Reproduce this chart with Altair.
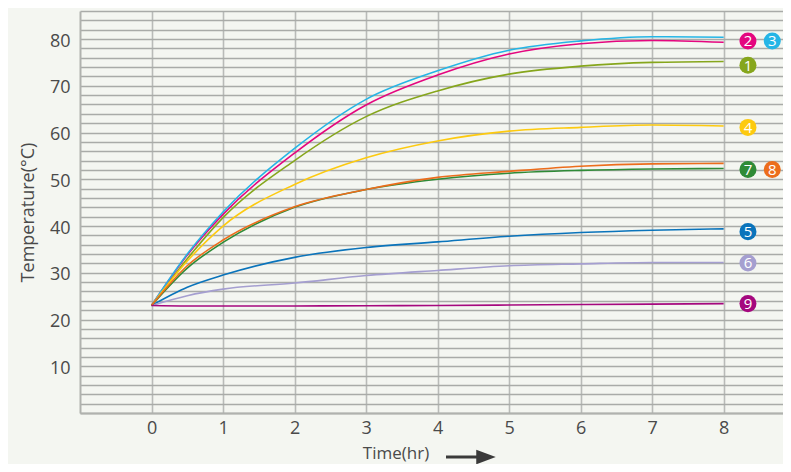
import altair as alt
import pandas as pd

# ---- data ----
hours = [0, 0.5, 1, 2, 3, 4, 5, 6, 7, 8]
series_ids = ["1", "2", "3", "4", "5", "6", "7", "8", "9"]
s1 = [23, 33.0, 41.8, 54.0, 63.4, 68.9, 72.5, 74.2, 75.0, 75.2]
s2 = [23, 33.8, 42.5, 55.6, 65.9, 72.3, 76.8, 79.0, 79.7, 79.3]
s3 = [23, 34.0, 43.0, 56.6, 67.1, 73.2, 77.6, 79.6, 80.5, 80.4]
s4 = [23, 32.5, 40.0, 48.9, 54.6, 58.2, 60.3, 61.1, 61.6, 61.4]
s5 = [23, 26.9, 29.5, 33.3, 35.4, 36.6, 37.8, 38.6, 39.1, 39.4]
s6 = [23, 25.1, 26.5, 27.8, 29.4, 30.5, 31.5, 31.9, 32.2, 32.2]
s7 = [23, 31.0, 36.5, 44.0, 47.8, 50.0, 51.3, 51.9, 52.2, 52.3]
s8 = [23, 31.5, 37.0, 44.1, 47.8, 50.4, 51.7, 52.8, 53.3, 53.4]
s9 = [23, 22.9, 22.9, 22.9, 22.95, 23.0, 23.1, 23.2, 23.3, 23.4]
colors = ["#86a61c", "#e4067f", "#25b5e6", "#fdca0f", "#0a74bb",
          "#a59fd0", "#2f8b37", "#ec6d1c", "#a5087e"]

# badge labels (number, row value, column)
badge_ids = ["1", "2", "3", "4", "5", "6", "7", "8", "9"]
badge_vals = [74.4, 79.6, 79.6, 61.1, 38.8, 32.1, 52.1, 52.1, 23.4]
badge_cols = [8.34, 8.34, 8.68, 8.34, 8.34, 8.34, 8.34, 8.68, 8.34]

all_vals = [s1, s2, s3, s4, s5, s6, s7, s8, s9]
rows = []
for sid, vals in zip(series_ids, all_vals):
    for t, v in zip(hours, vals):
        rows.append({"series": sid, "t": t, "v": v})
df = pd.DataFrame(rows)
bdf = pd.DataFrame({"series": badge_ids, "v": badge_vals, "t": badge_cols})

FONT = "Open Sans"
W, H = 703, 402
xscale = alt.Scale(domain=[-1, 8.83], nice=False, zero=False)
yscale = alt.Scale(domain=[0, 86], nice=False, zero=False)
cscale = alt.Scale(domain=series_ids, range=colors)

x_axis = alt.Axis(values=list(range(0, 9)), format="d", grid=True, gridColor="#b9bbb8",
                  gridWidth=1.6, domain=True, domainColor="#b0b2ae", domainWidth=2,
                  ticks=False, labelFont=FONT, labelFontSize=18, labelColor="#4a4a4a",
                  labelPadding=6, title=None)
y_axis = alt.Axis(values=list(range(0, 87, 2)), format="d", grid=True, gridColor="#a9aba8",
                  gridWidth=1.3, domain=True, domainColor="#b0b2ae", domainWidth=2,
                  ticks=False, labelFont=FONT, labelFontSize=18, labelColor="#4a4a4a",
                  labelExpr="datum.value % 10 == 0 && datum.value > 0 ? datum.label : ''",
                  labelPadding=10, labelOffset=2,
                  title="Temperature(°C)", titleFont=FONT, titleFontSize=18,
                  titleFontWeight="normal", titleColor="#4a4a4a", titlePadding=12)

X = alt.X("t:Q", scale=xscale, axis=x_axis)
Y = alt.Y("v:Q", scale=yscale, axis=y_axis)

lines = alt.Chart(df).mark_line(strokeWidth=1.6, interpolate="monotone").encode(
    x=X, y=Y,
    color=alt.Color("series:N", scale=cscale, legend=None),
    detail="series:N",
)

badges = alt.Chart(bdf).mark_circle(size=290, opacity=1).encode(
    x=X, y=Y,
    color=alt.Color("series:N", scale=cscale, legend=None),
)
badge_txt = alt.Chart(bdf).mark_text(color="white", font=FONT, fontSize=15,
                                     baseline="middle", align="center", dy=0.5).encode(
    x=X, y=Y,
    text="series:N",
)

title_df = pd.DataFrame({"label": ["Time(hr)"]})
xtitle = alt.Chart(title_df).mark_text(font=FONT, fontSize=17, color="#4a4a4a",
                                       align="center", baseline="alphabetic").encode(
    x=alt.value(316), y=alt.value(448), text="label:N")
arrow_line = alt.Chart(title_df).mark_rule(color="#3a3a3a", strokeWidth=3).encode(
    x=alt.value(366), x2=alt.value(400), y=alt.value(446))
arrow_head = alt.Chart(title_df).mark_point(
    shape="M-1,-0.75L1,0L-1,0.75Z", filled=True, color="#3a3a3a", size=380, opacity=1
).encode(x=alt.value(406), y=alt.value(446))

chart = alt.layer(lines, badges, badge_txt, xtitle, arrow_line, arrow_head).properties(
    width=W, height=H,
    background="#f4f6f1",
    padding={"left": 72, "top": 3, "right": 0, "bottom": 51},
    autosize=alt.AutoSizeParams(type="none"),
).configure_view(stroke=None, fill="#f4f6f1")

chart.save("out.html", embed_options={"renderer": "svg", "actions": False})
